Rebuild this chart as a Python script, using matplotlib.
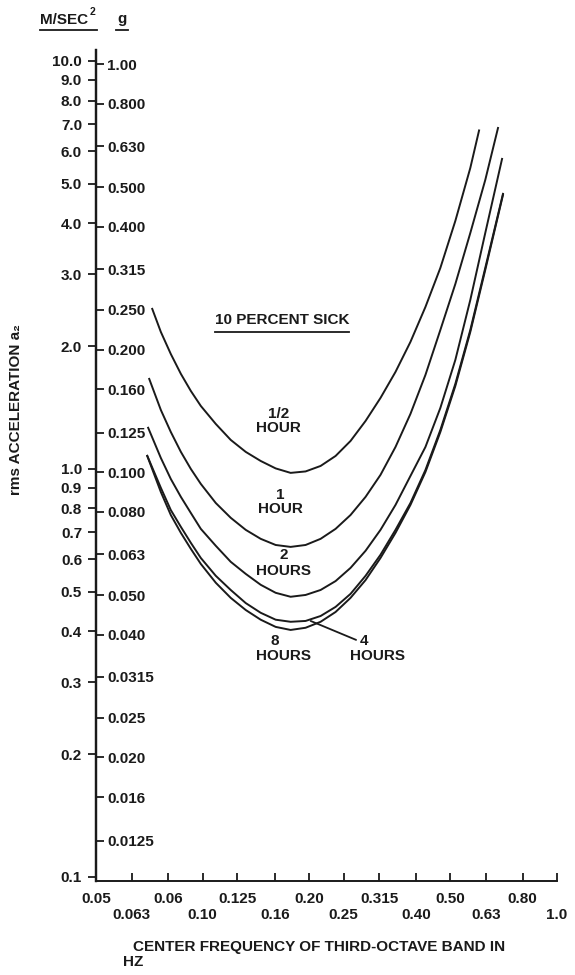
import matplotlib
matplotlib.use("Agg")
import matplotlib.pyplot as plt
from matplotlib.lines import Line2D
from matplotlib.ticker import NullLocator

plt.rcParams['font.family'] = ['Liberation Sans', 'DejaVu Sans']
plt.rcParams['font.weight'] = 'bold'
INK = '#1a1a1a'
FS = 11

G = 9.81  # m/s^2 per g

# axis ticks
ms_ticks = [0.1, 0.2, 0.3, 0.4, 0.5, 0.6, 0.7, 0.8, 0.9, 1.0,
            2.0, 3.0, 4.0, 5.0, 6.0, 7.0, 8.0, 9.0, 10.0]
ms_labels = ['0.1', '0.2', '0.3', '0.4', '0.5', '0.6', '0.7', '0.8', '0.9', '1.0',
             '2.0', '3.0', '4.0', '5.0', '6.0', '7.0', '8.0', '9.0', '10.0']
g_ticks = [0.0125, 0.016, 0.020, 0.025, 0.0315, 0.040, 0.050, 0.063, 0.080, 0.100,
           0.125, 0.160, 0.200, 0.250, 0.315, 0.400, 0.500, 0.630, 0.800, 1.00]
g_labels = ['0.0125', '0.016', '0.020', '0.025', '0.0315', '0.040', '0.050', '0.063',
            '0.080', '0.100', '0.125', '0.160', '0.200', '0.250', '0.315', '0.400',
            '0.500', '0.630', '0.800', '1.00']
x_row1 = [0.05, 0.08, 0.125, 0.20, 0.315, 0.50, 0.80]
x_row1_labels = ['0.05', '0.06', '0.125', '0.20', '0.315', '0.50', '0.80']
x_row2 = [0.063, 0.10, 0.16, 0.25, 0.40, 0.63, 1.0]
x_row2_labels = ['0.063', '0.10', '0.16', '0.25', '0.40', '0.63', '1.0']

# 10 percent sick curves (frequency Hz, rms acceleration m/s^2)
f_half = [0.0719, 0.0762, 0.0813, 0.0868, 0.0926, 0.0988, 0.1089, 0.1200, 0.1323,
          0.1458, 0.1607, 0.1771, 0.1952, 0.2152, 0.2372, 0.2614, 0.2882, 0.3176,
          0.3501, 0.3858, 0.4253, 0.4686, 0.5165, 0.5693, 0.6035]
a_half = [2.481, 2.167, 1.913, 1.710, 1.553, 1.427, 1.289, 1.178, 1.101,
          1.046, 1.003, 0.978, 0.986, 1.017, 1.076, 1.171, 1.311, 1.493,
          1.729, 2.048, 2.495, 3.110, 4.055, 5.468, 6.793]

f_1h = [0.0705, 0.0762, 0.0813, 0.0868, 0.0926, 0.0988, 0.1089, 0.1200, 0.1323,
        0.1458, 0.1607, 0.1771, 0.1952, 0.2152, 0.2372, 0.2614, 0.2882, 0.3176,
        0.3501, 0.3858, 0.4253, 0.4686, 0.5165, 0.5693, 0.6274, 0.6826]
a_1h = [1.671, 1.395, 1.232, 1.101, 1.000, 0.919, 0.825, 0.759, 0.709,
        0.674, 0.651, 0.644, 0.651, 0.674, 0.713, 0.771, 0.854, 0.967,
        1.132, 1.364, 1.700, 2.191, 2.840, 3.788, 5.109, 6.889]

f_2h = [0.0700, 0.0762, 0.0813, 0.0868, 0.0926, 0.0988, 0.1089, 0.1200, 0.1323,
        0.1458, 0.1607, 0.1771, 0.1952, 0.2152, 0.2372, 0.2614, 0.2882, 0.3176,
        0.3501, 0.3858, 0.4253, 0.4686, 0.5165, 0.5693, 0.6274, 0.7007]
a_2h = [1.268, 1.064, 0.945, 0.854, 0.780, 0.713, 0.648, 0.592, 0.553,
        0.520, 0.497, 0.486, 0.491, 0.505, 0.531, 0.572, 0.630, 0.709,
        0.816, 0.961, 1.132, 1.411, 1.850, 2.596, 3.788, 5.785]

f_4h = [0.0696, 0.0762, 0.0813, 0.0868, 0.0926, 0.0988, 0.1089, 0.1200, 0.1323,
        0.1458, 0.1607, 0.1771, 0.1952, 0.2152, 0.2372, 0.2614, 0.2882, 0.3176,
        0.3501, 0.3858, 0.4253, 0.4686, 0.5165, 0.5693, 0.6274, 0.7050]
a_4h = [1.082, 0.899, 0.793, 0.721, 0.659, 0.605, 0.547, 0.505, 0.469,
        0.444, 0.427, 0.422, 0.424, 0.436, 0.459, 0.494, 0.547, 0.616,
        0.709, 0.825, 0.994, 1.246, 1.616, 2.191, 3.110, 4.750]

f_8h = [0.0696, 0.0762, 0.0813, 0.0868, 0.0926, 0.0988, 0.1089, 0.1200, 0.1323,
        0.1458, 0.1607, 0.1771, 0.1952, 0.2152, 0.2372, 0.2614, 0.2882, 0.3176,
        0.3501, 0.3858, 0.4253, 0.4686, 0.5165, 0.5693, 0.6274, 0.7050]
a_8h = [1.082, 0.878, 0.771, 0.697, 0.637, 0.585, 0.526, 0.483, 0.451,
        0.427, 0.410, 0.403, 0.408, 0.422, 0.446, 0.483, 0.534, 0.605,
        0.697, 0.816, 0.983, 1.232, 1.597, 2.167, 3.075, 4.721]

W, H = 575, 975
fig = plt.figure(figsize=(W / 100, H / 100), dpi=100)


def fx(px):
    return px / W


def fy(py):
    return 1 - py / H


ax = fig.add_axes([fx(96), fy(881), fx(557) - fx(96), fy(50) - fy(881)])
ax.set_xscale('log')
ax.set_yscale('log')
ax.set_xlim(0.05, 1.0)
ax.set_ylim(0.0977, 10.64)

for f, a in [(f_half, a_half), (f_1h, a_1h), (f_2h, a_2h), (f_4h, a_4h), (f_8h, a_8h)]:
    ax.plot(f, a, color=INK, lw=1.4, solid_capstyle='butt', solid_joinstyle='round')

for s in ['top', 'right']:
    ax.spines[s].set_visible(False)
ax.spines['left'].set_linewidth(1.6)
ax.spines['bottom'].set_linewidth(1.4)
ax.spines['left'].set_color(INK)
ax.spines['bottom'].set_color(INK)

ax.set_yticks(ms_ticks, labels=ms_labels)
ax.yaxis.set_minor_locator(NullLocator())
ax.tick_params(axis='y', direction='out', length=6, width=1.3, pad=4,
               labelsize=FS, colors=INK)

ax.set_xticks(x_row1, labels=x_row1_labels)
ax.set_xticks(x_row2, labels=x_row2_labels, minor=True)
ax.tick_params(axis='x', which='both', direction='in', length=6, width=1.3,
               labelsize=FS, colors=INK)
ax.tick_params(axis='x', which='major', pad=8)
ax.tick_params(axis='x', which='minor', pad=19.5)

sec = ax.secondary_yaxis(0.0, functions=(lambda m: m / G, lambda g: g * G))
sec.set_alignment('right')
sec.set_ticks(g_ticks, labels=g_labels)
sec.yaxis.set_minor_locator(NullLocator())
sec.tick_params(axis='y', direction='out', length=6, width=1.3, pad=2,
                labelsize=FS, colors=INK)
sec.spines['right'].set_linewidth(1.6)
sec.spines['right'].set_color(INK)

# curve labels
ax.text(0.168, 2.32, '10 PERCENT SICK', ha='center', va='center', fontsize=FS, color=INK)
ax.text(0.164, 1.311, '1/2\nHOUR', ha='center', va='center', fontsize=FS,
        linespacing=1.05, color=INK)
ax.text(0.166, 0.830, '1\nHOUR', ha='center', va='center', fontsize=FS,
        linespacing=0.95, color=INK)
ax.text(0.169, 0.588, '2\nHOURS', ha='center', va='center', fontsize=FS,
        linespacing=1.15, color=INK)
ax.text(0.160, 0.379, '8', ha='center', va='center', fontsize=FS, color=INK)
ax.text(0.169, 0.348, 'HOURS', ha='center', va='center', fontsize=FS, color=INK)
ax.text(0.286, 0.379, '4', ha='center', va='center', fontsize=FS, color=INK)
ax.text(0.311, 0.348, 'HOURS', ha='center', va='center', fontsize=FS, color=INK)
ax.annotate('', xy=(0.2017, 0.424), xytext=(0.271, 0.381),
            arrowprops=dict(arrowstyle='-', lw=1.3, color=INK, shrinkA=0, shrinkB=0))

# underline for the heading
fig.add_artist(Line2D([fx(215), fx(349)], [fy(332), fy(332)], color=INK, lw=1.3))

# column headers
fig.text(fx(40), fy(20), 'M/SEC', ha='left', va='center', fontsize=FS, color=INK)
fig.text(fx(90), fy(12), '2', ha='left', va='center', fontsize=7.5, color=INK)
fig.add_artist(Line2D([fx(40), fx(97)], [fy(30), fy(30)], color=INK, lw=1.3))
fig.text(fx(122), fy(19), 'g', ha='center', va='center', fontsize=FS, color=INK)
fig.add_artist(Line2D([fx(116), fx(128)], [fy(30), fy(30)], color=INK, lw=1.3))

fig.text(fx(16), fy(410), 'rms ACCELERATION a₂', rotation=90, ha='center', va='center',
         fontsize=FS, color=INK)

fig.text(fx(133), fy(947), 'CENTER FREQUENCY OF THIRD-OCTAVE BAND IN', ha='left',
         va='center', fontsize=FS, color=INK)
fig.text(fx(123), fy(962), 'HZ', ha='left', va='center', fontsize=FS, color=INK)

fig.savefig('out.png', dpi=100)
